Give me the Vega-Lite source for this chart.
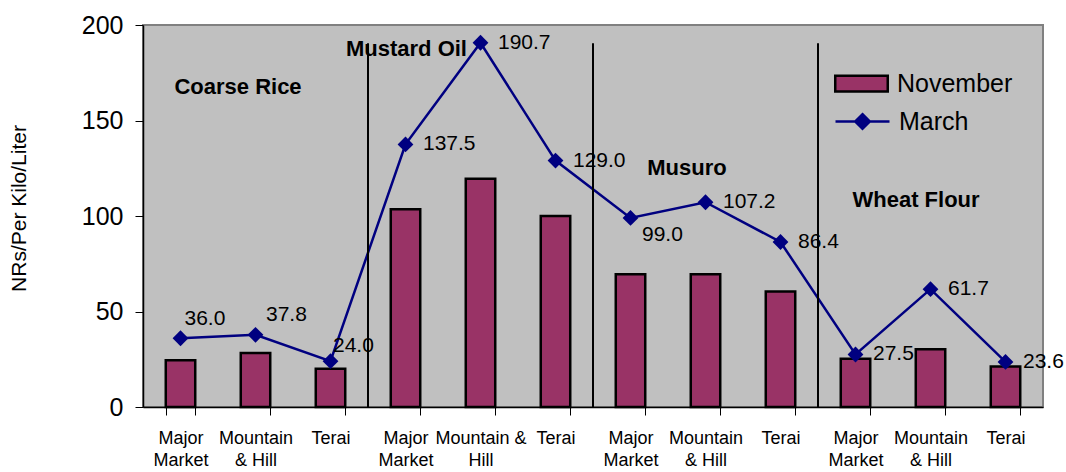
{
  "$schema": "https://vega.github.io/schema/vega-lite/v6.json",
  "width": 900,
  "height": 382,
  "autosize": {"type": "none"},
  "padding": {"left": 143, "top": 25, "right": 23, "bottom": 65},
  "background": "white",
  "config": {
    "font": "Liberation Sans",
    "view": {"fill": "#C0C0C0", "stroke": "#808080", "strokeWidth": 2},
    "axis": {"labelColor": "black", "titleColor": "black", "domainColor": "black", "tickColor": "black", "labelFont": "Liberation Sans", "titleFont": "Liberation Sans"},
    "legend": {"labelFont": "Liberation Sans", "labelColor": "black"}
  },
  "datasets": {
    "prices": [
      {"group": "Coarse Rice", "market": "Major Market", "key": "Coarse Rice|Major|Market", "November": 24.5, "March": 36.0},
      {"group": "Coarse Rice", "market": "Mountain & Hill", "key": "Coarse Rice|Mountain|& Hill", "November": 28.3, "March": 37.8},
      {"group": "Coarse Rice", "market": "Terai", "key": "Coarse Rice|Terai", "November": 20.0, "March": 24.0},
      {"group": "Mustard Oil", "market": "Major Market", "key": "Mustard Oil|Major|Market", "November": 103.5, "March": 137.5},
      {"group": "Mustard Oil", "market": "Mountain & Hill", "key": "Mustard Oil|Mountain &|Hill", "November": 119.5, "March": 190.7},
      {"group": "Mustard Oil", "market": "Terai", "key": "Mustard Oil|Terai", "November": 100.0, "March": 129.0},
      {"group": "Musuro", "market": "Major Market", "key": "Musuro|Major|Market", "November": 69.5, "March": 99.0},
      {"group": "Musuro", "market": "Mountain & Hill", "key": "Musuro|Mountain|& Hill", "November": 69.5, "March": 107.2},
      {"group": "Musuro", "market": "Terai", "key": "Musuro|Terai", "November": 60.5, "March": 86.4},
      {"group": "Wheat Flour", "market": "Major Market", "key": "Wheat Flour|Major|Market", "November": 25.3, "March": 27.5},
      {"group": "Wheat Flour", "market": "Mountain & Hill", "key": "Wheat Flour|Mountain|& Hill", "November": 30.3, "March": 61.7},
      {"group": "Wheat Flour", "market": "Terai", "key": "Wheat Flour|Terai", "November": 21.2, "March": 23.6}
    ],
    "separators": [
      {"pos": 3, "top": 190.5},
      {"pos": 6, "top": 190.5},
      {"pos": 9, "top": 190.5}
    ],
    "groups": [
      {"name": "Coarse Rice", "pos": 1.267, "y": 163.9},
      {"name": "Mustard Oil", "pos": 3.513, "y": 183.8},
      {"name": "Musuro", "pos": 7.253, "y": 121.5},
      {"name": "Wheat Flour", "pos": 10.307, "y": 104.7}
    ]
  },
  "layer": [
    {
      "data": {"name": "prices"},
      "encoding": {
        "x": {
          "field": "key", "type": "nominal", "sort": null,
          "scale": {"paddingInner": 0.607, "paddingOuter": 0.3035},
          "axis": {"title": null, "labelExpr": "slice(split(datum.value,'|'),1)", "labelAngle": 0, "labelFontSize": 18, "labelLineHeight": 22, "tickBand": "extent", "tickSize": 8, "labelPadding": 14, "labelBaseline": "top", "domainWidth": 1.5, "tickWidth": 1}
        }
      },
      "layer": [
        {
          "mark": {"type": "bar", "stroke": "black", "strokeWidth": 2.5},
          "encoding": {
            "y": {"field": "November", "type": "quantitative", "scale": {"domain": [0, 200], "nice": false}, "title": "NRs/Per Kilo/Liter",
              "axis": {"values": [0, 50, 100, 150, 200], "grid": false, "tickSize": 8, "labelFontSize": 25, "labelPadding": 12, "titleFontSize": 21, "titleFontWeight": "normal", "titlePadding": 52, "titleY": 183, "domainWidth": 1.5}},
            "fill": {"datum": "November", "type": "nominal", "scale": {"range": ["#993366"]},
              "legend": {"orient": "none", "legendX": 691, "legendY": 31, "title": null, "padding": 0, "symbolType": "M-1,-0.3H1V0.3H-1Z", "symbolSize": 2756, "symbolStrokeColor": "black", "symbolStrokeWidth": 2.5, "labelFontSize": 25, "labelOffset": 8}}
          }
        },
        {
          "mark": {"type": "line", "strokeWidth": 2.5},
          "encoding": {
            "y": {"field": "March", "type": "quantitative", "scale": {"domain": [0, 200], "nice": false}, "title": "NRs/Per Kilo/Liter"},
            "stroke": {"datum": "March", "type": "nominal", "scale": {"range": ["#000080"]},
              "legend": {"orient": "none", "legendX": 691, "legendY": 68, "title": null, "padding": 0, "symbolType": "M-1,0H1M0,-0.27L0.27,0L0,0.27L-0.27,0Z", "symbolSize": 2916, "symbolStrokeWidth": 2.5, "symbolFillColor": "#000080", "labelFontSize": 25, "labelOffset": 8}}
          }
        },
        {
          "mark": {"type": "point", "shape": "diamond", "filled": true, "size": 250, "color": "#000080", "opacity": 1},
          "encoding": {
            "y": {"field": "March", "type": "quantitative", "scale": {"domain": [0, 200], "nice": false}, "title": "NRs/Per Kilo/Liter"}
          }
        },
        {
          "transform": [{"filter": "!(datum.group == 'Coarse Rice') && !(datum.group == 'Musuro' && datum.market == 'Major Market')"}],
          "mark": {"type": "text", "align": "left", "baseline": "middle", "dx": 17.5, "fontSize": 21, "color": "black"},
          "encoding": {
            "y": {"field": "March", "type": "quantitative", "scale": {"domain": [0, 200], "nice": false}, "title": "NRs/Per Kilo/Liter"},
            "text": {"field": "March", "type": "quantitative", "format": ".1f"}
          }
        },
        {
          "transform": [{"filter": "datum.group == 'Coarse Rice' && datum.market == 'Major Market'"}],
          "mark": {"type": "text", "align": "left", "baseline": "middle", "dx": 4, "dy": -19, "fontSize": 21, "color": "black"},
          "encoding": {
            "y": {"field": "March", "type": "quantitative", "scale": {"domain": [0, 200], "nice": false}, "title": "NRs/Per Kilo/Liter"},
            "text": {"field": "March", "type": "quantitative", "format": ".1f"}
          }
        },
        {
          "transform": [{"filter": "datum.group == 'Coarse Rice' && datum.market == 'Mountain & Hill'"}],
          "mark": {"type": "text", "align": "left", "baseline": "middle", "dx": 10.5, "dy": -20, "fontSize": 21, "color": "black"},
          "encoding": {
            "y": {"field": "March", "type": "quantitative", "scale": {"domain": [0, 200], "nice": false}, "title": "NRs/Per Kilo/Liter"},
            "text": {"field": "March", "type": "quantitative", "format": ".1f"}
          }
        },
        {
          "transform": [{"filter": "datum.group == 'Coarse Rice' && datum.market == 'Terai'"}],
          "mark": {"type": "text", "align": "left", "baseline": "middle", "dx": 2.5, "dy": -15, "fontSize": 21, "color": "black"},
          "encoding": {
            "y": {"field": "March", "type": "quantitative", "scale": {"domain": [0, 200], "nice": false}, "title": "NRs/Per Kilo/Liter"},
            "text": {"field": "March", "type": "quantitative", "format": ".1f"}
          }
        },
        {
          "transform": [{"filter": "datum.group == 'Musuro' && datum.market == 'Major Market'"}],
          "mark": {"type": "text", "align": "left", "baseline": "middle", "dx": 11.5, "dy": 17, "fontSize": 21, "color": "black"},
          "encoding": {
            "y": {"field": "March", "type": "quantitative", "scale": {"domain": [0, 200], "nice": false}, "title": "NRs/Per Kilo/Liter"},
            "text": {"field": "March", "type": "quantitative", "format": ".1f"}
          }
        }
      ]
    },
    {
      "data": {"name": "separators"},
      "mark": {"type": "rule", "color": "black", "strokeWidth": 2},
      "encoding": {
        "x": {"field": "pos", "type": "quantitative", "scale": {"domain": [0, 12], "nice": false, "zero": false}, "axis": null},
        "y": {"field": "top", "type": "quantitative", "scale": {"domain": [0, 200], "nice": false}, "title": "NRs/Per Kilo/Liter"},
        "y2": {"datum": 0}
      }
    },
    {
      "data": {"name": "groups"},
      "mark": {"type": "text", "fontWeight": "bold", "fontSize": 22, "align": "center", "baseline": "alphabetic", "color": "black"},
      "encoding": {
        "x": {"field": "pos", "type": "quantitative", "scale": {"domain": [0, 12], "nice": false, "zero": false}, "axis": null},
        "y": {"field": "y", "type": "quantitative", "scale": {"domain": [0, 200], "nice": false}, "title": "NRs/Per Kilo/Liter"},
        "text": {"field": "name", "type": "nominal"}
      }
    }
  ],
  "resolve": {"scale": {"x": "independent"}}
}
